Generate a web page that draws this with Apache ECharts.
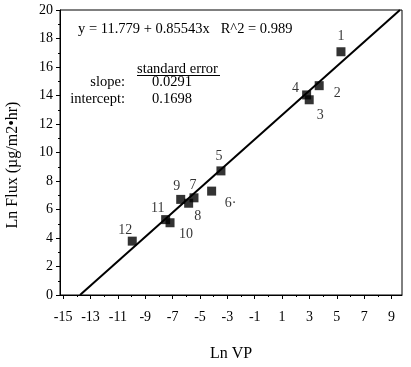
<!DOCTYPE html>
<html>
<head>
<meta charset="utf-8">
<script src="https://cdn.jsdelivr.net/npm/echarts@6/dist/echarts.min.js"></script>
<style>html,body{margin:0;padding:0;background:#fff}#c{width:411px;height:367px}</style>
</head>
<body>
<div id="c"></div>
<script>
// ---- data ----
var pointNames = ['1','2','3','4','5','6·','7','8','9','10','11','12'];
var lnVP   = [5.30, 3.71, 2.98, 2.79, -3.47, -4.15, -5.44, -5.83, -6.41, -7.19, -7.51, -9.95];
var lnFlux = [17.07, 14.69, 13.70, 14.04, 8.71, 7.29, 6.82, 6.44, 6.71, 5.07, 5.29, 3.78];
var fitIntercept = 11.779;
var fitSlope = 0.85543;
var xTickLabels = [-15, -13, -11, -9, -7, -5, -3, -1, 1, 3, 5, 7, 9];
var xMinorTicks = [-15,-14,-13,-12,-11,-10,-9,-8,-7,-6,-5,-4,-3,-2,-1,0,1,2,3,4,5,6,7,8,9];
var yTickLabels = [0, 2, 4, 6, 8, 10, 12, 14, 16, 18, 20];
var annotationEq = 'y = 11.779 + 0.85543x   R^2 = 0.989';
var seSlope = '0.0291';
var seIntercept = '0.1698';
var yTitle = 'Ln Flux (µg/m2•hr)';

// ---- label placement (style) ----
var labelOffsets = [[0,-15],[18,8],[11,16],[-11,-7],[-2,-15],[19,12],[-1,-12],[9,13],[-4,-13],[16,12],[-8,-11],[-7,-11]];

var FONT = '"Liberation Serif", "DejaVu Serif", serif';
var xMin = -15.23, xMax = 9.76, yMin = 0, yMax = 20;

var pts = lnVP.map(function (x, i) {
  return {
    value: [x, lnFlux[i]],
    label: { show: true, formatter: pointNames[i], position: 'inside', offset: labelOffsets[i],
             color: '#000', fontFamily: FONT, fontSize: 14 }
  };
});
var lineX0 = (yMin - fitIntercept) / fitSlope;
var lineX1 = (yMax - fitIntercept) / fitSlope;
var fitLine = [[lineX0, fitIntercept + fitSlope * lineX0], [lineX1, fitIntercept + fitSlope * lineX1]];

var chart = echarts.init(document.getElementById('c'), null, { renderer: 'canvas' });
chart.setOption({
  animation: false,
  backgroundColor: '#fff',
  textStyle: { fontFamily: FONT },
  grid: { left: 60, right: 9, top: 10, bottom: 65, show: true, borderColor: '#000', borderWidth: 1, backgroundColor: 'transparent' },
  xAxis: [{
    type: 'value', min: xMin, max: xMax, position: 'bottom',
    name: 'Ln VP', nameLocation: 'middle', nameGap: 51,
    nameTextStyle: { color: '#000', fontFamily: FONT, fontSize: 16 },
    axisLine: { show: true, onZero: false, lineStyle: { color: '#000', width: 1 } },
    axisTick: { show: true, customValues: xTickLabels, length: 4, lineStyle: { color: '#000' } },
    axisLabel: { show: true, customValues: xTickLabels, color: '#000', fontFamily: FONT, fontSize: 14, margin: 15 },
    splitLine: { show: false }
  }, {
    type: 'value', min: xMin, max: xMax, position: 'bottom',
    axisLine: { show: false },
    axisTick: { show: true, customValues: xMinorTicks, length: 2, lineStyle: { color: '#000' } },
    axisLabel: { show: false },
    splitLine: { show: false }
  }],
  yAxis: {
    type: 'value', min: yMin, max: yMax, interval: 2,
    axisLine: { show: true, onZero: false, lineStyle: { color: '#000', width: 1 } },
    axisTick: { show: true, length: 4, lineStyle: { color: '#000' } },
    minorTick: { show: true, splitNumber: 2, length: 2, lineStyle: { color: '#000' } },
    axisLabel: { color: '#000', fontFamily: FONT, fontSize: 14, margin: 7,
      customValues: yTickLabels },
    splitLine: { show: false }
  },
  series: [{
    type: 'line', data: fitLine, showSymbol: false, symbol: 'none',
    lineStyle: { color: '#000', width: 2 }, clip: true, silent: true, z: 2
  }, {
    type: 'scatter', data: pts, symbol: 'rect', symbolSize: 9,
    itemStyle: { color: '#000' }, z: 3
  }],
  graphic: [
    { type: 'text', x: 13, y: 165, rotation: Math.PI / 2,
      style: { text: yTitle, font: '16px ' + FONT, fill: '#000', align: 'center', verticalAlign: 'middle' } },
    { type: 'text', left: 78, top: 22, style: { text: annotationEq, font: '14.5px ' + FONT, fill: '#000' } },
    { type: 'text', left: 137, top: 62, style: { text: 'standard error', font: '14.5px ' + FONT, fill: '#000' } },
    { type: 'line', shape: { x1: 137, y1: 75.5, x2: 220, y2: 75.5 }, style: { stroke: '#000', lineWidth: 1 } },
    { type: 'text', x: 125, y: 82, style: { text: 'slope:', font: '14.5px ' + FONT, fill: '#000', align: 'right', verticalAlign: 'middle' } },
    { type: 'text', x: 152, y: 82, style: { text: seSlope, font: '14.5px ' + FONT, fill: '#000', align: 'left', verticalAlign: 'middle' } },
    { type: 'text', x: 125, y: 99, style: { text: 'intercept:', font: '14.5px ' + FONT, fill: '#000', align: 'right', verticalAlign: 'middle' } },
    { type: 'text', x: 152, y: 99, style: { text: seIntercept, font: '14.5px ' + FONT, fill: '#000', align: 'left', verticalAlign: 'middle' } }
  ]
});
</script>
</body>
</html>
